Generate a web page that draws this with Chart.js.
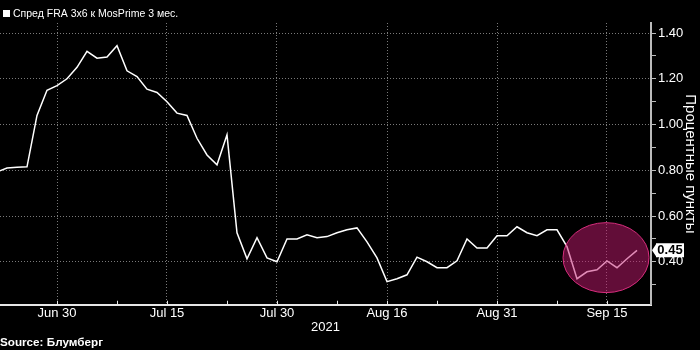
<!DOCTYPE html>
<html><head><meta charset="utf-8">
<style>html,body{margin:0;padding:0;background:#000;overflow:hidden}</style>
<script src="https://cdn.jsdelivr.net/npm/chart.js@4"></script>
</head><body>
<canvas id="c" width="700" height="350"></canvas>
<script>
const SERIES_LABEL = 'Спред FRA 3x6 к MosPrime 3 мес.';
const DATES = ['Jun 22','Jun 23','Jun 24','Jun 25','Jun 28','Jun 29','Jun 30','Jul 1','Jul 2','Jul 5',
  'Jul 6','Jul 7','Jul 8','Jul 9','Jul 12','Jul 13','Jul 14','Jul 15','Jul 16','Jul 19',
  'Jul 20','Jul 21','Jul 22','Jul 23','Jul 26','Jul 27','Jul 28','Jul 29','Jul 30','Aug 2',
  'Aug 3','Aug 4','Aug 5','Aug 6','Aug 9','Aug 10','Aug 11','Aug 12','Aug 13','Aug 16',
  'Aug 17','Aug 18','Aug 19','Aug 20','Aug 23','Aug 24','Aug 25','Aug 26','Aug 27','Aug 30',
  'Aug 31','Sep 1','Sep 2','Sep 3','Sep 6','Sep 7','Sep 8','Sep 9','Sep 10','Sep 13',
  'Sep 14','Sep 15','Sep 16','Sep 17','Sep 20'];
const VALUES = [0.793,0.81,0.813,0.815,1.04,1.15,1.17,1.20,1.25,1.32,
  1.29,1.295,1.345,1.235,1.21,1.155,1.14,1.10,1.05,1.04,
  0.94,0.867,0.824,0.955,0.527,0.413,0.505,0.417,0.40,0.50,
  0.50,0.518,0.505,0.51,0.527,0.54,0.548,0.487,0.417,0.313,
  0.326,0.343,0.42,0.40,0.374,0.374,0.404,0.50,0.46,0.46,
  0.514,0.514,0.553,0.527,0.514,0.54,0.54,0.466,0.326,0.356,
  0.365,0.404,0.374,0.413,0.45];
const X_TICK_LABELS = ['Jun 30','Jul 15','Jul 30','Aug 16','Aug 31','Sep 15'];
const X_MINOR_TICKS = ['Jul 8','Jul 23','Aug 9','Aug 23','Sep 8'];
const Y_MAJOR_TICKS = [0.4,0.6,0.8,1.0,1.2,1.4];
const Y_MINOR_TICKS = [0.3,0.5,0.7,0.9,1.1,1.3];
const Y_TITLE = 'Процентные пункты';
const X_TITLE = '2021';
const SOURCE = 'Source: Блумберг';
const HIGHLIGHT = {xCenter: 60.9, yCenter: 0.418, xRadius: 4.3, yRadius: 0.153};

const FONT = "'Liberation Sans', Arial, sans-serif";
Chart.defaults.font.family = FONT;

const majorX = X_TICK_LABELS.map(d => DATES.indexOf(d));
const minorX = X_MINOR_TICKS.map(d => DATES.indexOf(d));
const isMajorY = v => Y_MAJOR_TICKS.some(t => Math.abs(t - v) < 1e-6);

const bgPlugin = {
  id: 'bg',
  beforeDraw(chart) {
    const c = chart.ctx; c.save(); c.fillStyle = '#000'; c.fillRect(0,0,chart.width,chart.height); c.restore();
  }
};
const overlayPlugin = {
  id: 'overlay',
  afterDatasetsDraw(chart) {
    const c = chart.ctx, xs = chart.scales.x, ys = chart.scales.y;
    const cx = xs.getPixelForValue(HIGHLIGHT.xCenter), cy = ys.getPixelForValue(HIGHLIGHT.yCenter);
    const rx = Math.abs(xs.getPixelForValue(HIGHLIGHT.xCenter + HIGHLIGHT.xRadius) - cx);
    const ry = Math.abs(ys.getPixelForValue(HIGHLIGHT.yCenter + HIGHLIGHT.yRadius) - cy);
    c.save();
    c.beginPath(); c.ellipse(cx, cy, rx, ry, 0, 0, Math.PI*2);
    c.fillStyle = 'rgba(196,26,112,0.5)'; c.fill();
    c.lineWidth = 1; c.strokeStyle = 'rgb(215,45,125)'; c.stroke();
    c.restore();
  },
  afterDraw(chart) {
    const c = chart.ctx, xs = chart.scales.x, ys = chart.scales.y, a = chart.chartArea;
    c.save();
    c.strokeStyle = '#e6e6e6'; c.lineWidth = 1;
    xs.ticks.forEach(t => {
      const px = Math.round(xs.getPixelForValue(t.value)) + 0.5;
      c.beginPath(); c.moveTo(px, a.bottom); c.lineTo(px, a.bottom - 4); c.stroke();
    });
    c.fillStyle = '#fff';
    c.fillRect(3, 10, 7, 7);
    c.font = '10.5px ' + FONT; c.textBaseline = 'middle'; c.textAlign = 'left';
    c.fillText(chart.data.datasets[0].label, 13, 14);
    const last = VALUES[VALUES.length - 1];
    const py = ys.getPixelForValue(last);
    const x0 = a.right + 1;
    c.beginPath();
    c.moveTo(x0, py); c.lineTo(x0 + 4, py - 6); c.lineTo(x0 + 4, py - 7);
    c.lineTo(x0 + 32, py - 7); c.lineTo(x0 + 32, py + 7); c.lineTo(x0 + 4, py + 7); c.lineTo(x0 + 4, py + 6);
    c.closePath(); c.fillStyle = '#fff'; c.fill();
    c.fillStyle = '#000'; c.font = 'bold 13px ' + FONT; c.textAlign = 'center';
    c.fillText(last.toFixed(2), x0 + 18, py + 0.5);
    c.restore();
  }
};

new Chart(document.getElementById('c'), {
  type: 'line',
  data: {
    datasets: [{
      label: SERIES_LABEL,
      data: VALUES.map((v, i) => ({x: i, y: v})),
      borderColor: '#ffffff', borderWidth: 1.5, pointRadius: 0, tension: 0, fill: false
    }]
  },
  options: {
    responsive: false, animation: false, devicePixelRatio: 1,
    layout: {padding: {top: 23, left: 0, right: 0, bottom: 0}},
    plugins: {
      legend: {display: false},
      tooltip: {enabled: false},
      subtitle: {display: true, text: SOURCE, position: 'bottom', align: 'start', color: '#fff',
        font: {size: 11.7, weight: 'bold'}, padding: {top: 0, bottom: 0}}
    },
    scales: {
      x: {
        type: 'linear', min: 0.3, max: 65.4,
        afterBuildTicks(s) { s.ticks = majorX.concat(minorX).sort((p,q)=>p-q).map(v => ({value: v})); },
        afterFit(s) { s.height = 31.2; },
        grid: {color: ctx => (ctx.tick && majorX.includes(ctx.tick.value)) ? '#7a7a7a' : 'rgba(0,0,0,0)', drawTicks: false, lineWidth: 1},
        border: {display: true, color: '#e6e6e6', width: 2, dash: [1, 2]},
        ticks: {color: '#fff', font: {size: 13}, padding: 1, autoSkip: false, maxRotation: 0,
          callback: v => { const i = majorX.indexOf(v); return i >= 0 ? X_TICK_LABELS[i] : ''; }},
        title: {display: true, text: X_TITLE, color: '#fff', font: {size: 13}, padding: {top: 0, bottom: 1}}
      },
      y: {
        type: 'linear', position: 'right', min: 0.212, max: 1.444,
        afterBuildTicks(s) { s.ticks = Y_MAJOR_TICKS.concat(Y_MINOR_TICKS).sort((p,q)=>p-q).map(v => ({value: v})); },
        afterFit(s) { s.width = 49; },
        grid: {color: ctx => (ctx.tick && isMajorY(ctx.tick.value)) ? '#7a7a7a' : 'rgba(0,0,0,0)',
          tickColor: '#bbbbbb', drawTicks: true, tickLength: 5, lineWidth: 1},
        border: {display: true, color: '#bbbbbb', width: 2, dash: [1, 2]},
        ticks: {color: '#fff', font: {size: 13}, padding: 2, autoSkip: false,
          callback: v => isMajorY(v) ? v.toFixed(2) : ''},
        title: {display: true, text: Y_TITLE, color: '#fff', font: {size: 15}, padding: {top: 1, bottom: 0}}
      }
    }
  },
  plugins: [bgPlugin, overlayPlugin]
});
</script>
</body></html>
